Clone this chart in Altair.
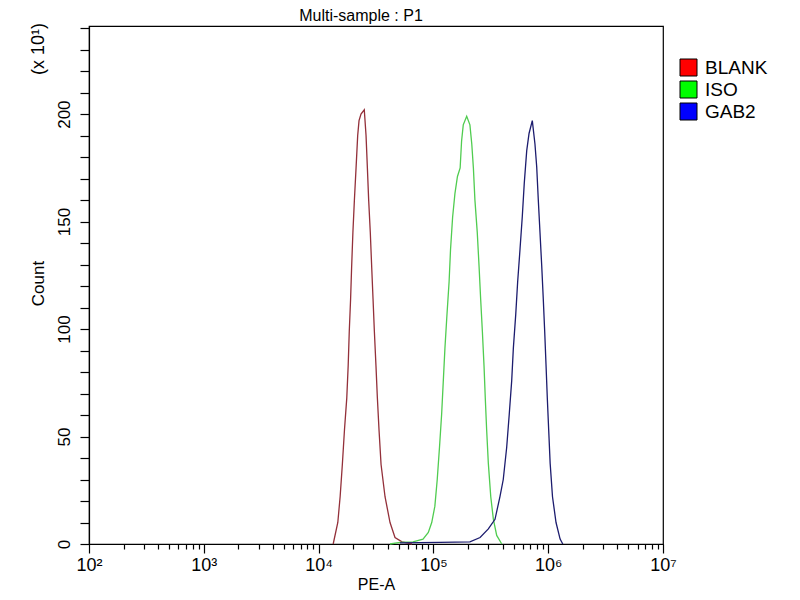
import altair as alt
import pandas as pd

FONT = "Liberation Sans"

# values (PE-A channel value, count)
blank_pe = [1.34e4, 1.47e4, 1.54e4, 1.61e4, 1.68e4, 1.76e4, 1.81e4, 1.85e4, 1.90e4,
            1.94e4, 1.99e4, 2.05e4, 2.12e4, 2.19e4, 2.25e4, 2.34e4, 2.50e4, 2.59e4,
            2.66e4, 2.73e4, 2.82e4, 2.90e4, 2.98e4, 3.06e4, 3.16e4, 3.25e4, 3.36e4,
            3.50e4, 3.79e4, 4.19e4, 4.63e4, 5.33e4, 6.51e4]
blank_count = [0, 10, 22, 37, 53, 68, 83, 99, 114, 129, 145, 160, 175, 190, 197, 200,
               202, 190, 175, 160, 145, 129, 114, 99, 83, 68, 53, 37, 22, 10, 3, 1, 0]

iso_pe = [4.19e4, 5.12e4, 6.64e4, 8.12e4, 9.03e4, 9.67e4, 1.03e5, 1.08e5, 1.13e5,
          1.18e5, 1.22e5, 1.26e5, 1.31e5, 1.37e5, 1.41e5, 1.47e5, 1.54e5, 1.62e5,
          1.71e5, 1.76e5, 1.82e5, 1.95e5, 2.08e5, 2.16e5, 2.23e5, 2.30e5, 2.41e5,
          2.50e5, 2.58e5, 2.67e5, 2.76e5, 2.83e5, 2.91e5, 3.01e5, 3.16e5, 3.33e5,
          3.56e5, 3.94e5]
iso_count = [0, 0.8, 1, 2.3, 5.4, 10, 17.6, 30, 45, 60.5, 76, 91, 106, 122, 137, 152,
             163, 171, 175, 187.5, 195, 199, 195, 186, 175, 160, 145, 129, 114, 99,
             83, 68, 53, 37.5, 22, 11.5, 4, 0]

gab2_pe = [5.12e4, 1.14e5, 2.08e5, 2.55e5, 3.01e5, 3.44e5, 3.80e5, 4.06e5, 4.35e5,
           4.58e5, 4.81e5, 4.97e5, 5.21e5, 5.42e5, 5.68e5, 5.95e5, 6.19e5, 6.50e5,
           6.81e5, 7.27e5, 7.67e5, 7.94e5, 8.20e5, 8.48e5, 8.78e5, 9.06e5, 9.32e5,
           9.57e5, 9.82e5, 1.01e6, 1.04e6, 1.09e6, 1.17e6, 1.27e6, 1.34e6]
gab2_count = [0.5, 0.8, 1, 3, 7, 11.5, 22, 30, 45, 60.5, 76, 91, 106.5, 122, 137,
              152.5, 168, 183, 191, 197, 186, 175.5, 160, 145, 129.5, 114, 99, 83.5,
              68, 53, 37.5, 22, 10, 2.3, 0]

samples = ["BLANK", "ISO", "GAB2"]
legend_colors = ["#ff0000", "#00ff00", "#0000ff"]
# line colours, in the alphabetical order of the sample names (BLANK, GAB2, ISO)
line_colors = ["#93303a", "#1c1c6e", "#50cc50"]

frames = []
for name, pe, cnt in [("BLANK", blank_pe, blank_count),
                      ("ISO", iso_pe, iso_count),
                      ("GAB2", gab2_pe, gab2_count)]:
    d = pd.DataFrame({"pe": pe, "count": cnt})
    d["sample"] = name
    d["order"] = range(len(d))
    frames.append(d)
data = pd.concat(frames, ignore_index=True)

x_ticks = [m * 10 ** e for e in range(2, 7) for m in range(1, 10)] + [10 ** 7]
y_ticks = list(range(0, 250, 10))

x_labels = ("datum.value == 100 ? '10²' : datum.value == 1000 ? '10³' : "
            "datum.value == 10000 ? '10⁴' : datum.value == 100000 ? '10⁵' : "
            "datum.value == 1000000 ? '10⁶' : datum.value == 10000000 ? '10⁷' : ''")
major_test = "indexof([100, 1000, 10000, 100000, 1000000, 10000000], datum.value) >= 0"

x_enc = alt.X("pe:Q",
              scale=alt.Scale(type="log", domain=[100, 10 ** 7], nice=False),
              axis=alt.Axis(values=x_ticks, labelExpr=x_labels, labelOverlap=False,
                            tickSize={"condition": {"test": major_test, "value": 9}, "value": 5},
                            labelFontSize=18, labelPadding=3, title="PE-A",
                            titleFontSize=16, titleFontWeight="normal", titlePadding=2,
                            grid=False, labelFlush=False))
y_enc = alt.Y("count:Q",
              scale=alt.Scale(domain=[0, 241], nice=False),
              axis=alt.Axis(values=y_ticks,
                            labelExpr="datum.value % 50 == 0 ? '' + datum.value : ''",
                            labelOverlap=False, labelSeparation=0, tickSize=9, labelAngle=270,
                            labelAlign="center", labelBaseline="bottom", labelPadding=7,
                            labelFontSize=17, title="Count", titleFontSize=17,
                            titleFontWeight="normal", titleX=-51, titleY=257,
                            titleAngle=270, titleAlign="center", titleBaseline="middle",
                            grid=False, labelFlush=False))

lines = alt.Chart(data).mark_line(strokeWidth=1.3).encode(
    x=x_enc,
    y=y_enc,
    color=alt.Color("sample:N", scale=alt.Scale(range=line_colors), legend=None),
    order="order:Q",
)

legend_df = pd.DataFrame({"name": samples})
legend_layer = alt.Chart(legend_df).mark_square(size=0).encode(
    x=alt.value(0),
    y=alt.value(0),
    fill=alt.Fill("name:N", scale=alt.Scale(domain=samples, range=legend_colors),
                  legend=alt.Legend(orient="none", legendX=590, legendY=32, title=None,
                                    symbolType="square", symbolSize=289,
                                    symbolStrokeColor="black", symbolStrokeWidth=1,
                                    symbolOpacity=1, labelFontSize=19, labelOffset=7,
                                    rowPadding=1, padding=0)),
)

texts = pd.DataFrame({"t": ["(x 10¹)"]})
scale_note = alt.Chart(texts).mark_text(
    angle=270, fontSize=18, font=FONT, color="black", baseline="middle", align="center"
).encode(text="t:N", x=alt.value(-50), y=alt.value(23))

title_df = pd.DataFrame({"t": ["Multi-sample : P1"]})
title_mark = alt.Chart(title_df).mark_text(
    fontSize=16, font=FONT, color="black", baseline="alphabetic", align="center"
).encode(text="t:N", x=alt.value(272), y=alt.value(-5))

chart = alt.layer(lines, legend_layer, scale_note, title_mark).properties(
    width=574,
    height=518,
    autosize=alt.AutoSizeParams(type="none"),
    padding={"left": 81, "top": 18, "right": 129, "bottom": 50},
).configure_view(
    stroke="black", strokeWidth=1.2
).configure_axis(
    labelFont=FONT, titleFont=FONT, labelColor="black", titleColor="black",
    domainColor="black", tickColor="black", domainWidth=1.2, tickWidth=1.2
).configure_legend(
    labelFont=FONT, labelColor="black"
)

chart.save("out.html", embed_options={"renderer": "svg", "actions": False})
